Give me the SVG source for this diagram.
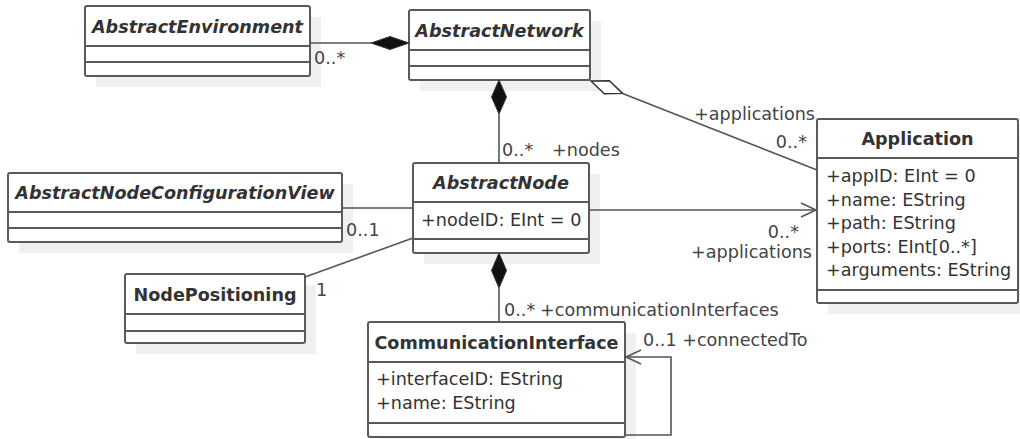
<svg xmlns="http://www.w3.org/2000/svg" width="1020" height="439" viewBox="0 0 1020 439">
<style>
.bg{fill:#ffffff}
.shadow{fill:#f0f0f0;stroke:none}
.box{fill:#ffffff;stroke:#5a5a5a;stroke-width:2}
.sep{stroke:#5a5a5a;stroke-width:2;fill:none}
.t{font-family:"DejaVu Sans","Liberation Sans",sans-serif;font-size:17.6px;fill:#333333}
.title{font-weight:bold;text-anchor:middle}
.abs{font-style:italic}
.line{stroke:#555555;stroke-width:1.6;fill:none}
.fd{fill:#111111;stroke:#333333;stroke-width:1}
.od{fill:#ffffff;stroke:#333333;stroke-width:1.5}
.lbl{font-family:"DejaVu Sans","Liberation Sans",sans-serif;font-size:17.6px;fill:#444444}
</style>
<rect class="bg" x="0" y="0" width="1020" height="439"/>

<g id="AbstractEnvironment">
<rect class="shadow" x="96" y="17" width="225" height="70"/>
<rect class="box" x="85" y="6" width="225" height="70" rx="2"/>
<line class="sep" x1="85" y1="46" x2="310" y2="46"/>
<line class="sep" x1="85" y1="62" x2="310" y2="62"/>
<text class="t title abs" x="197.5" y="33">AbstractEnvironment</text>
</g>

<g id="AbstractNetwork">
<rect class="shadow" x="420" y="21" width="181" height="70"/>
<rect class="box" x="409" y="10" width="181" height="70" rx="2"/>
<line class="sep" x1="409" y1="50" x2="590" y2="50"/>
<line class="sep" x1="409" y1="66" x2="590" y2="66"/>
<text class="t title abs" x="499.5" y="36.5">AbstractNetwork</text>
</g>

<g id="AbstractNodeConfigurationView">
<rect class="shadow" x="19" y="184" width="334" height="69"/>
<rect class="box" x="8" y="173" width="334" height="69" rx="2"/>
<line class="sep" x1="8" y1="212" x2="342" y2="212"/>
<line class="sep" x1="8" y1="228" x2="342" y2="228"/>
<text class="t title abs" x="175" y="199">AbstractNodeConfigurationView</text>
</g>

<g id="NodePositioning">
<rect class="shadow" x="136" y="285" width="180" height="69"/>
<rect class="box" x="125" y="274" width="180" height="69" rx="2"/>
<line class="sep" x1="125" y1="314" x2="305" y2="314"/>
<line class="sep" x1="125" y1="331" x2="305" y2="331"/>
<text class="t title" x="215" y="301">NodePositioning</text>
</g>

<g id="AbstractNode">
<rect class="shadow" x="424" y="174" width="176" height="90"/>
<rect class="box" x="413" y="163" width="176" height="90" rx="2"/>
<line class="sep" x1="413" y1="202" x2="589" y2="202"/>
<line class="sep" x1="413" y1="239" x2="589" y2="239"/>
<text class="t title abs" x="501" y="189">AbstractNode</text>
<text class="t" x="421" y="226">+nodeID: EInt = 0</text>
</g>

<g id="Application">
<rect class="shadow" x="828" y="130" width="201" height="184"/>
<rect class="box" x="817" y="119" width="201" height="184" rx="2"/>
<line class="sep" x1="817" y1="158" x2="1018" y2="158"/>
<line class="sep" x1="817" y1="290" x2="1018" y2="290"/>
<text class="t title" x="917.5" y="145">Application</text>
<text class="t" x="826" y="182">+appID: EInt = 0</text>
<text class="t" x="826" y="205.5">+name: EString</text>
<text class="t" x="826" y="229">+path: EString</text>
<text class="t" x="826" y="252.5">+ports: EInt[0..*]</text>
<text class="t" x="826" y="276">+arguments: EString</text>
</g>

<g id="CommunicationInterface">
<rect class="shadow" x="379" y="333" width="257" height="115"/>
<rect class="box" x="368" y="322" width="257" height="115" rx="2"/>
<line class="sep" x1="368" y1="362" x2="625" y2="362"/>
<line class="sep" x1="368" y1="423" x2="625" y2="423"/>
<text class="t title" x="496.5" y="349">CommunicationInterface</text>
<text class="t" x="376" y="384.5">+interfaceID: EString</text>
<text class="t" x="376" y="408.5">+name: EString</text>
</g>

<g id="connectors">
<!-- Environment - Network composition -->
<line class="line" x1="310" y1="43" x2="371" y2="43"/>
<polygon class="fd" points="409,43 390,36.5 371,43 390,49.5"/>
<text class="lbl" x="314" y="64">0..*</text>
<!-- Network - Node composition -->
<polygon class="fd" points="499,80 506.5,97 499,114 491.5,97"/>
<line class="line" x1="499" y1="114" x2="499" y2="163"/>
<text class="lbl" x="502" y="156">0..*</text>
<text class="lbl" x="552" y="156">+nodes</text>
<!-- Network - Application aggregation -->
<polygon class="od" points="591,81 609.4,80.7 622.6,93.4 604.2,93.7"/>
<line class="line" x1="622.6" y1="93.4" x2="817" y2="170"/>
<text class="lbl" x="815" y="120" text-anchor="end">+applications</text>
<text class="lbl" x="807" y="148" text-anchor="end">0..*</text>
<!-- Node - Application association -->
<line class="line" x1="589" y1="210" x2="816" y2="210"/>
<polyline class="line" points="801,203 816,210 801,217"/>
<text class="lbl" x="799" y="238" text-anchor="end">0..*</text>
<text class="lbl" x="812" y="258" text-anchor="end">+applications</text>
<!-- ConfigView - Node -->
<line class="line" x1="342" y1="208" x2="413" y2="208"/>
<text class="lbl" x="346" y="236">0..1</text>
<!-- NodePositioning - Node -->
<line class="line" x1="305" y1="277" x2="413" y2="238"/>
<text class="lbl" x="316" y="296">1</text>
<!-- Node - CommunicationInterface composition -->
<polygon class="fd" points="499,253 506.5,270.5 499,288 491.5,270.5"/>
<line class="line" x1="499" y1="288" x2="499" y2="322"/>
<text class="lbl" x="504" y="316">0..*</text>
<text class="lbl" x="540" y="316">+communicationInterfaces</text>
<!-- Self association -->
<polyline class="line" points="625,435 671,435 671,357 626,357"/>
<polyline class="line" points="641,350 626,357 641,364"/>
<text class="lbl" x="643" y="346">0..1 +connectedTo</text>
</g>
</svg>
